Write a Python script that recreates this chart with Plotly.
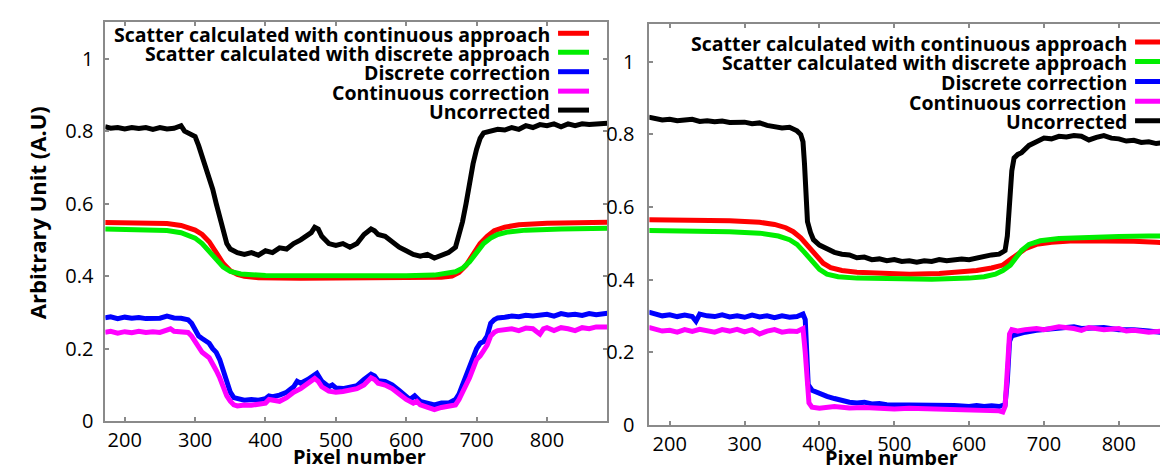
import plotly.graph_objects as go

# ---------------- data: left panel ----------------
L_black_x = [172, 180, 190, 200, 210, 220, 230, 240, 250, 260, 270, 280, 285, 290, 295, 300, 305, 310, 315, 320, 325, 330, 335, 340, 345, 350, 355, 360, 370, 380, 390, 400, 410, 420, 430, 440, 450, 460, 465, 470, 475, 480, 490, 500, 510, 520, 530, 540, 550, 555, 560, 570, 580, 590, 600, 610, 620, 630, 640, 650, 660, 670, 675, 680, 685, 690, 695, 700, 705, 710, 720, 730, 740, 750, 760, 770, 780, 790, 800, 810, 820, 830, 840, 850, 860, 870, 886]
L_black_y = [0.812, 0.808, 0.81, 0.806, 0.81, 0.807, 0.81, 0.805, 0.81, 0.806, 0.808, 0.815, 0.80, 0.795, 0.79, 0.785, 0.76, 0.73, 0.70, 0.675, 0.64, 0.60, 0.56, 0.52, 0.49, 0.475, 0.47, 0.465, 0.46, 0.465, 0.458, 0.47, 0.465, 0.478, 0.475, 0.49, 0.50, 0.515, 0.52, 0.535, 0.53, 0.51, 0.49, 0.485, 0.49, 0.48, 0.49, 0.515, 0.53, 0.525, 0.515, 0.51, 0.495, 0.48, 0.47, 0.46, 0.455, 0.46, 0.45, 0.458, 0.465, 0.48, 0.51, 0.55, 0.60, 0.66, 0.71, 0.75, 0.78, 0.795, 0.80, 0.805, 0.803, 0.81, 0.805, 0.815, 0.81, 0.818, 0.815, 0.82, 0.812, 0.82, 0.815, 0.82, 0.818, 0.82, 0.822]

L_red_x = [172, 220, 260, 280, 290, 300, 310, 320, 330, 340, 350, 360, 370, 390, 450, 550, 620, 650, 665, 675, 685, 695, 705, 715, 725, 740, 760, 800, 850, 886]
L_red_y = [0.548, 0.547, 0.545, 0.54, 0.535, 0.527, 0.515, 0.495, 0.465, 0.435, 0.415, 0.405, 0.40, 0.396, 0.394, 0.394, 0.395, 0.397, 0.40, 0.41, 0.43, 0.46, 0.49, 0.51, 0.525, 0.535, 0.542, 0.546, 0.548, 0.549]

L_green_x = [172, 220, 260, 280, 290, 300, 310, 320, 330, 340, 350, 365, 400, 500, 600, 640, 660, 670, 680, 690, 700, 710, 720, 730, 745, 770, 820, 886]
L_green_y = [0.53, 0.529, 0.526, 0.52, 0.514, 0.505, 0.49, 0.468, 0.445, 0.425, 0.413, 0.406, 0.402, 0.40, 0.401, 0.403, 0.407, 0.412, 0.422, 0.44, 0.465, 0.49, 0.505, 0.515, 0.522, 0.527, 0.53, 0.532]

L_blue_x = [172, 180, 190, 200, 210, 220, 230, 240, 250, 260, 270, 280, 290, 295, 300, 305, 310, 320, 325, 330, 335, 340, 345, 350, 355, 360, 370, 380, 390, 400, 405, 410, 420, 430, 440, 445, 450, 460, 470, 473, 480, 490, 495, 500, 510, 520, 530, 540, 550, 555, 560, 570, 580, 590, 600, 605, 612, 620, 630, 640, 650, 660, 670, 675, 680, 690, 695, 700, 705, 710, 715, 720, 725, 730, 740, 750, 760, 770, 780, 790, 800, 810, 820, 830, 840, 850, 860, 870, 886]
L_blue_y = [0.285, 0.288, 0.283, 0.287, 0.284, 0.286, 0.283, 0.285, 0.284, 0.29, 0.285, 0.284, 0.28, 0.27, 0.25, 0.235, 0.228, 0.215, 0.20, 0.19, 0.17, 0.14, 0.11, 0.08, 0.065, 0.062, 0.058, 0.06, 0.058, 0.062, 0.07, 0.068, 0.072, 0.08, 0.095, 0.11, 0.105, 0.115, 0.13, 0.132, 0.11, 0.095, 0.10, 0.092, 0.09, 0.095, 0.098, 0.115, 0.13, 0.125, 0.112, 0.11, 0.10, 0.085, 0.07, 0.06, 0.07, 0.055, 0.05, 0.045, 0.05, 0.05, 0.06, 0.075, 0.10, 0.15, 0.175, 0.20, 0.215, 0.22, 0.235, 0.27, 0.28, 0.285, 0.287, 0.29, 0.288, 0.292, 0.29, 0.294, 0.295, 0.29, 0.297, 0.293, 0.295, 0.292, 0.297, 0.294, 0.298]

L_mag_x = [172, 180, 190, 200, 210, 220, 230, 240, 250, 260, 265, 270, 280, 290, 295, 300, 305, 310, 320, 325, 330, 335, 340, 345, 350, 355, 360, 370, 380, 390, 400, 405, 410, 420, 430, 440, 450, 460, 470, 475, 480, 490, 500, 510, 520, 530, 540, 550, 555, 560, 570, 580, 590, 600, 610, 615, 620, 630, 640, 650, 660, 670, 675, 680, 690, 700, 705, 710, 715, 720, 725, 730, 740, 750, 760, 770, 780, 790, 795, 800, 810, 820, 830, 840, 850, 860, 870, 886]
L_mag_y = [0.245, 0.248, 0.243, 0.247, 0.244, 0.248, 0.245, 0.247, 0.245, 0.25, 0.255, 0.248, 0.245, 0.245, 0.235, 0.22, 0.205, 0.19, 0.175, 0.16, 0.14, 0.12, 0.095, 0.07, 0.055, 0.045, 0.042, 0.045, 0.044, 0.048, 0.05, 0.06, 0.058, 0.055, 0.065, 0.08, 0.09, 0.105, 0.118, 0.11, 0.095, 0.083, 0.08, 0.082, 0.085, 0.09, 0.10, 0.12, 0.115, 0.105, 0.10, 0.09, 0.075, 0.06, 0.05, 0.055, 0.045, 0.038, 0.032, 0.038, 0.04, 0.045, 0.06, 0.08, 0.12, 0.17, 0.18, 0.195, 0.21, 0.235, 0.245, 0.25, 0.252, 0.255, 0.25, 0.257, 0.255, 0.24, 0.255, 0.258, 0.25, 0.258, 0.255, 0.25, 0.258, 0.255, 0.26, 0.26]

# ---------------- data: right panel ----------------
R_black_x = [172, 180, 190, 200, 210, 220, 230, 240, 250, 260, 270, 280, 290, 300, 310, 320, 330, 340, 350, 360, 365, 370, 375, 378, 380, 382, 384, 388, 392, 400, 410, 420, 430, 440, 450, 460, 470, 480, 490, 500, 510, 520, 530, 540, 550, 560, 570, 580, 590, 600, 610, 620, 630, 640, 648, 651, 654, 657, 660, 665, 670, 675, 680, 690, 700, 710, 720, 730, 740, 750, 760, 770, 780, 790, 800, 810, 820, 830, 840, 850, 860, 874]
R_black_y = [0.848, 0.845, 0.84, 0.842, 0.838, 0.84, 0.842, 0.836, 0.838, 0.835, 0.837, 0.833, 0.835, 0.834, 0.83, 0.832, 0.825, 0.822, 0.818, 0.82, 0.815, 0.81, 0.80, 0.78, 0.72, 0.62, 0.56, 0.53, 0.51, 0.495, 0.485, 0.475, 0.47, 0.468, 0.46, 0.462, 0.455, 0.457, 0.452, 0.455, 0.45, 0.452, 0.448, 0.452, 0.45, 0.455, 0.452, 0.455, 0.457, 0.455, 0.46, 0.462, 0.468, 0.47, 0.48, 0.52, 0.62, 0.70, 0.735, 0.745, 0.75, 0.76, 0.77, 0.78, 0.79, 0.788, 0.795, 0.793, 0.797, 0.795, 0.785, 0.792, 0.797, 0.79, 0.788, 0.782, 0.784, 0.778, 0.78, 0.775, 0.778, 0.77]

R_red_x = [172, 220, 280, 320, 340, 355, 365, 375, 385, 395, 405, 415, 430, 450, 480, 520, 560, 590, 610, 630, 645, 655, 665, 675, 690, 710, 740, 780, 820, 850, 874]
R_red_y = [0.565, 0.564, 0.562, 0.558, 0.552, 0.543, 0.532, 0.515, 0.49, 0.465, 0.445, 0.433, 0.425, 0.42, 0.417, 0.415, 0.417, 0.42, 0.425, 0.432, 0.44, 0.455, 0.47, 0.485, 0.497, 0.503, 0.507, 0.508, 0.506, 0.503, 0.50]

R_green_x = [172, 220, 280, 320, 345, 360, 370, 380, 390, 400, 410, 425, 450, 500, 550, 600, 620, 635, 645, 655, 662, 670, 680, 695, 720, 760, 800, 840, 874]
R_green_y = [0.535, 0.534, 0.532, 0.528, 0.52, 0.51, 0.497, 0.475, 0.45, 0.428, 0.415, 0.408, 0.404, 0.401, 0.401, 0.404, 0.408, 0.415, 0.425, 0.44, 0.46, 0.48, 0.497, 0.507, 0.513, 0.517, 0.519, 0.52, 0.521]

R_blue_x = [172, 180, 190, 200, 210, 220, 230, 235, 240, 250, 260, 270, 280, 290, 300, 310, 320, 330, 340, 350, 360, 370, 378, 381, 383, 385, 390, 400, 410, 420, 430, 440, 450, 460, 470, 480, 490, 500, 520, 540, 560, 580, 600, 610, 620, 630, 640, 648, 651, 654, 657, 665, 675, 690, 700, 720, 740, 750, 760, 780, 800, 820, 840, 860, 874]
R_blue_y = [0.31, 0.305, 0.30, 0.303, 0.298, 0.302, 0.298, 0.285, 0.305, 0.30, 0.298, 0.303, 0.297, 0.30, 0.296, 0.302, 0.297, 0.30, 0.295, 0.30, 0.296, 0.298, 0.305, 0.29, 0.20, 0.11, 0.095, 0.085, 0.078, 0.072, 0.066, 0.062, 0.06, 0.062, 0.057, 0.058, 0.055, 0.055, 0.053, 0.055, 0.052, 0.053, 0.05, 0.053, 0.05, 0.052, 0.05, 0.055, 0.12, 0.23, 0.245, 0.25, 0.255, 0.26, 0.262, 0.265, 0.27, 0.265, 0.265, 0.268, 0.262, 0.262, 0.258, 0.255, 0.25]

R_mag_x = [172, 180, 190, 200, 210, 220, 230, 240, 250, 260, 270, 280, 290, 300, 310, 320, 330, 340, 350, 360, 370, 378, 381, 383, 386, 390, 400, 420, 440, 460, 480, 500, 520, 540, 560, 580, 600, 620, 640, 645, 648, 651, 654, 657, 665, 675, 690, 700, 720, 740, 750, 760, 780, 800, 810, 820, 840, 860, 874]
R_mag_y = [0.268, 0.262, 0.258, 0.26, 0.255, 0.262, 0.257, 0.263, 0.26, 0.255, 0.262, 0.258, 0.263, 0.256, 0.262, 0.25, 0.258, 0.262, 0.255, 0.258, 0.257, 0.265, 0.20, 0.12, 0.06, 0.048, 0.045, 0.05, 0.046, 0.047, 0.045, 0.043, 0.045, 0.044, 0.042, 0.044, 0.04, 0.042, 0.038, 0.035, 0.05, 0.15, 0.25, 0.262, 0.258, 0.262, 0.265, 0.262, 0.27, 0.265, 0.26, 0.268, 0.262, 0.265, 0.258, 0.26, 0.255, 0.258, 0.255]

series_names = ["Scatter calculated with continuous approach",
                "Scatter calculated with discrete approach",
                "Discrete correction",
                "Continuous correction",
                "Uncorrected"]
series_colors = ["#ff0000", "#00ee00", "#0000ff", "#ff00ff", "#000000"]

x_ticks = [200, 300, 400, 500, 600, 700, 800]
y_ticks = [0, 0.2, 0.4, 0.6, 0.8, 1]
x_title = "Pixel number"
y_title = "Arbitrary Unit (A.U)"

FONT = "Open Sans"
AXIS_GREY = "#8a8a8a"

fig = go.Figure()

panels = [
    ("x", "y", [L_red_x, L_green_x, L_blue_x, L_mag_x, L_black_x],
     [L_red_y, L_green_y, L_blue_y, L_mag_y, L_black_y]),
    ("x2", "y2", [R_red_x, R_green_x, R_blue_x, R_mag_x, R_black_x],
     [R_red_y, R_green_y, R_blue_y, R_mag_y, R_black_y]),
]
draw_order = [4, 0, 1, 2, 3]
for xa, ya, xs, ys in panels:
    for i in draw_order:
        fig.add_trace(go.Scatter(
            x=xs[i], y=ys[i], mode="lines", name=series_names[i],
            line=dict(color=series_colors[i], width=5),
            xaxis=xa, yaxis=ya, showlegend=False))

axis_common = dict(showline=True, linecolor=AXIS_GREY, linewidth=2,
                   mirror="ticks", ticks="inside", ticklen=4, tickwidth=1.5,
                   tickcolor=AXIS_GREY, showgrid=False, zeroline=False,
                   tickfont=dict(family=FONT, size=20, color="#000"))

W, H = 1168, 470
fig.update_layout(
    width=W, height=H, margin=dict(l=0, r=0, t=0, b=0),
    paper_bgcolor="white", plot_bgcolor="white",
    xaxis=dict(domain=[97.5 / W, 600.5 / W], range=[172.4, 886], tickvals=x_ticks,
               anchor="y", ticklabelstandoff=0, **axis_common),
    yaxis=dict(domain=[(H - 425) / H, (H - 14) / H], range=[0, 1.102], tickvals=y_ticks,
               anchor="x", ticklabelstandoff=6, **axis_common),
    xaxis2=dict(domain=[642.5 / W, 1.0], range=[172.8, 873.7], tickvals=x_ticks,
                anchor="y2", ticklabelstandoff=0, **axis_common),
    yaxis2=dict(domain=[(H - 428.5) / H, (H - 16.7) / H], range=[0, 1.104], tickvals=y_ticks,
                anchor="x2", ticklabelstandoff=9, **axis_common),
)

# axis titles
fig.add_annotation(xref="paper", yref="paper", x=352 / W, y=(H - 461) / H,
                   xanchor="center", yanchor="middle", showarrow=False,
                   text="<b>" + x_title + "</b>",
                   font=dict(family=FONT, size=20, color="#000"))
fig.add_annotation(xref="paper", yref="paper", x=885 / W, y=(H - 462) / H,
                   xanchor="center", yanchor="middle", showarrow=False,
                   text="<b>" + x_title + "</b>",
                   font=dict(family=FONT, size=20, color="#000"))
fig.add_annotation(xref="paper", yref="paper", x=29 / W, y=(H - 210) / H,
                   xanchor="center", yanchor="middle", showarrow=False, textangle=-90,
                   text="<b>" + y_title + "</b>",
                   font=dict(family=FONT, size=22, color="#000"))

# legends drawn as right-aligned text with the line sample on the right
legend_specs = [
    dict(text_right=545, line_x0=551, line_x1=582, rows=[27, 46.5, 66.5, 86.5, 106]),
    dict(text_right=1123, line_x0=1129, line_x1=1164, rows=[36, 56, 76.5, 97, 117]),
]
for spec in legend_specs:
    for i, name in enumerate(series_names):
        yc = spec["rows"][i]
        fig.add_annotation(
            xref="paper", yref="paper", x=spec["text_right"] / W, y=(H - yc) / H,
            xanchor="right", yanchor="middle", showarrow=False,
            text="<b>" + name + "</b>",
            font=dict(family=FONT, size=19.5, color="#000"))
        fig.add_shape(type="line", xref="paper", yref="paper",
                      x0=spec["line_x0"] / W, x1=spec["line_x1"] / W,
                      y0=(H - yc + 1) / H, y1=(H - yc + 1) / H,
                      line=dict(color=series_colors[i], width=5))

fig.write_html("out.html")
